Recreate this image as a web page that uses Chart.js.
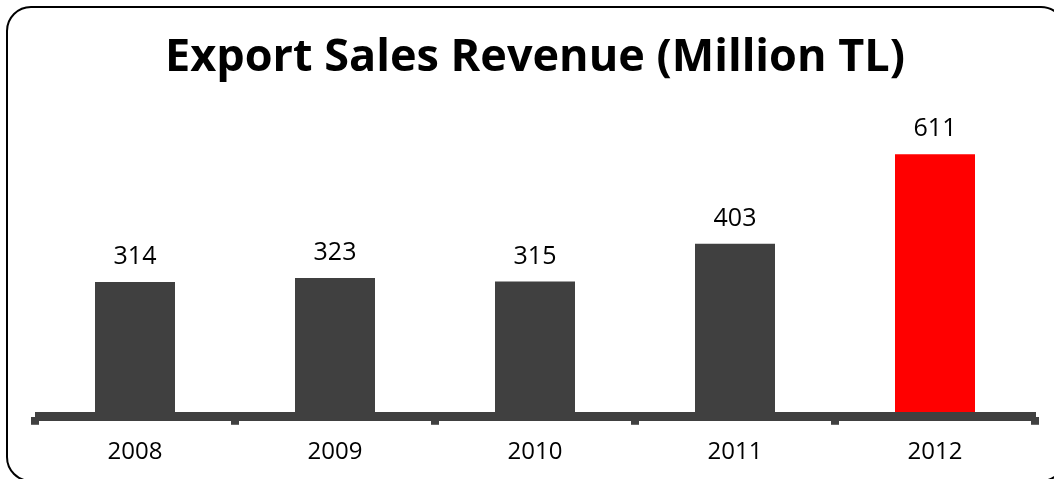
<!DOCTYPE html>
<html>
<head>
<meta charset="utf-8">
<script src="https://cdn.jsdelivr.net/npm/chart.js@4"></script>
<style>
  body { margin: 0; background: #fff; overflow: hidden; }
  #wrap { position: relative; width: 1054px; height: 479px; overflow: hidden; }
  #frame {
    position: absolute; left: 6px; top: 6px; width: 1060px; height: 476px;
    border: 2px solid #000; border-radius: 25px; box-sizing: border-box;
  }
  canvas { position: absolute; left: 0; top: 0; }
</style>
</head>
<body>
<div id="wrap">
  <div id="frame"></div>
  <canvas id="chart" width="1054" height="479"></canvas>
</div>
<script>
// data
const years = ['2008', '2009', '2010', '2011', '2012'];
const revenue = [314, 323, 315, 403, 611];
const barColors = ['#404040', '#404040', '#404040', '#404040', '#ff0000'];

const font = 'Open Sans';

// value labels above bars
const valueLabels = {
  id: 'valueLabels',
  afterDatasetsDraw(chart) {
    const ctx = chart.ctx;
    const meta = chart.getDatasetMeta(0);
    ctx.save();
    ctx.fillStyle = '#000';
    ctx.font = '25px "' + font + '"';
    ctx.textAlign = 'center';
    ctx.textBaseline = 'alphabetic';
    meta.data.forEach((bar, i) => {
      ctx.fillText(revenue[i], bar.x, bar.y - 18);
    });
    ctx.restore();
  }
};

// thick base axis with hanging ticks
const baseAxis = {
  id: 'baseAxis',
  afterDatasetsDraw(chart) {
    const ctx = chart.ctx;
    const area = chart.chartArea;
    const x = chart.scales.x;
    const half = (x.getPixelForValue(1) - x.getPixelForValue(0)) / 2;
    ctx.save();
    ctx.fillStyle = '#404040';
    ctx.fillRect(area.left, area.bottom - 5, area.right - area.left + 1, 9);
    for (let i = 0; i <= years.length; i++) {
      const px = x.getPixelForValue(i) - half;
      ctx.fillStyle = '#404040';
      ctx.fillRect(px - 4, area.bottom, 8, 8);
      ctx.fillStyle = '#6a6a6a';
      ctx.fillRect(px - 4, area.bottom + 7, 8, 1);
    }
    ctx.restore();
  }
};

new Chart(document.getElementById('chart'), {
  type: 'bar',
  data: {
    labels: years,
    datasets: [{
      data: revenue,
      backgroundColor: barColors,
      barPercentage: 0.4,
      categoryPercentage: 1
    }]
  },
  options: {
    responsive: false,
    animation: false,
    layout: { padding: { top: 0, left: 35, right: 19, bottom: 0 } },
    plugins: {
      legend: { display: false },
      tooltip: { enabled: false },
      title: {
        display: true,
        text: 'Export Sales Revenue (Million TL)',
        color: '#000',
        font: { family: font, size: 45, weight: 'bold' },
        padding: { top: 31, bottom: 31 }
      }
    },
    scales: {
      x: {
        grid: { display: false, drawTicks: false },
        border: { display: false },
        ticks: { color: '#000', padding: 21, font: { family: font, size: 24 } },
        afterFit(scale) { scale.height = 62; }
      },
      y: { display: false, min: 0, max: 700 }
    }
  },
  plugins: [valueLabels, baseAxis]
});
</script>
</body>
</html>
